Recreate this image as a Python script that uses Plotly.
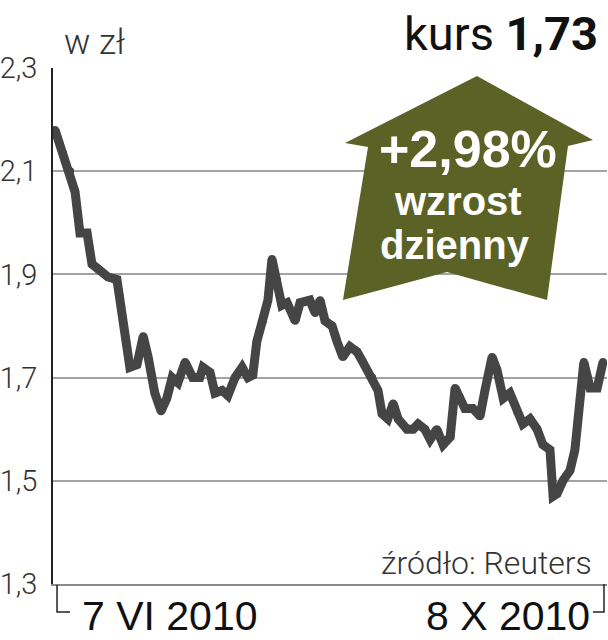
import plotly.graph_objects as go

# ---- data ----
days = [0, 1.8, 3.4, 4.5, 5.6, 7.2, 8.3, 9.7, 11.9, 13.9, 14.6, 16.8, 18.4, 19.8, 20.9,
        22.4, 23.8, 25.1, 26.3, 27.6, 29.2, 30.9, 32.5, 33.2, 34.8, 35.9, 37.5, 38.8,
        40.4, 42.0, 43.3, 44.4, 45.3, 46.7, 47.8, 48.7, 49.8, 50.9, 52.1, 53.9, 55.0,
        57.2, 58.4, 59.5, 60.6, 62.2, 63.3, 64.6, 66.2, 67.8, 69.1, 71.2, 72.5, 73.4,
        74.7, 75.9, 77.0, 79.0, 80.4, 81.5, 83.0, 84.2, 85.7, 87.1, 88.7, 89.8, 90.9,
        92.0, 93.8, 95.4, 96.5, 98.1, 99.2, 100.6, 102.1, 103.7, 105.0, 106.6, 108.2,
        109.5, 111.1, 111.8, 112.7, 114.0, 115.6, 116.7, 117.8, 118.7, 120.1, 121.7, 123.0]
kurs = [2.18, 2.135, 2.10, 2.06, 1.98, 1.98, 1.92, 1.91, 1.895, 1.89, 1.855, 1.72, 1.725,
        1.78, 1.74, 1.67, 1.635, 1.66, 1.70, 1.69, 1.73, 1.70, 1.70, 1.72, 1.71, 1.67,
        1.675, 1.665, 1.70, 1.72, 1.70, 1.705, 1.77, 1.81, 1.85, 1.93, 1.89, 1.84, 1.845,
        1.81, 1.845, 1.85, 1.825, 1.85, 1.81, 1.80, 1.77, 1.74, 1.76, 1.75, 1.73, 1.70,
        1.675, 1.63, 1.62, 1.65, 1.62, 1.60, 1.60, 1.61, 1.60, 1.58, 1.60, 1.57, 1.585,
        1.68, 1.66, 1.64, 1.64, 1.625, 1.675, 1.74, 1.715, 1.66, 1.67, 1.635, 1.61, 1.62,
        1.60, 1.57, 1.56, 1.47, 1.475, 1.50, 1.52, 1.56, 1.66, 1.73, 1.68, 1.68, 1.73]
y_ticks = [1.3, 1.5, 1.7, 1.9, 2.1, 2.3]
date_start = "7 VI 2010"
date_end = "8 X 2010"
unit_label = "w zł"
last_value = "1,73"
change_text = "+2,98%"
change_words = ["wzrost", "dzienny"]
source = "źródło: Reuters"

W, H = 608, 640
def px(x):
    return x / W
def py(y):
    return 1 - y / H

NARROW = "Roboto, Liberation Sans, sans-serif"
SANS = "Liberation Sans, Arial, sans-serif"
LINE = "#454545"
OLIVE = "#5a6226"

fig = go.Figure()
fig.add_trace(go.Scatter(
    x=days, y=kurs, mode="lines+markers",
    line=dict(color=LINE, width=9),
    marker=dict(color=LINE, size=8),
    hoverinfo="skip", showlegend=False, cliponaxis=False,
))

shapes = []
# up arrow
arrow_pts = [(477, 76), (593, 140), (568, 146), (547, 300), (447, 272),
             (343, 300), (368, 147), (345, 143)]
path = "M " + " L ".join(f"{px(a):.4f},{py(b):.4f}" for a, b in arrow_pts) + " Z"
shapes.append(dict(type="path", xref="paper", yref="paper", path=path,
                   fillcolor=OLIVE, line=dict(width=0), layer="above"))
# brackets under the axis
for pts in ([(57, 585), (57, 612), (70, 612)], [(604, 584), (604, 612), (593, 612)]):
    p = "M " + " L ".join(f"{px(a):.4f},{py(b):.4f}" for a, b in pts)
    shapes.append(dict(type="path", xref="paper", yref="paper", path=p,
                       line=dict(color="#222", width=1.5)))

ann = []
def add_text(text, x, y, size, color, xanchor, family=NARROW, weight=None):
    f = dict(size=size, color=color, family=family)
    if weight:
        f["weight"] = weight
    ann.append(dict(text=text, x=px(x), y=py(y), xref="paper", yref="paper",
                    xanchor=xanchor, yanchor="middle", showarrow=False, font=f))

add_text(unit_label, 62, 42, 35, "#333", "left", weight=300)
add_text("kurs <b>" + last_value + "</b>", 600, 34, 47, "#111", "right")
add_text("<b>" + change_text + "</b>", 468, 149, 52, "white", "center", family=SANS)
add_text("<b>" + change_words[0] + "</b>", 458, 201, 40, "white", "center", family=SANS)
add_text("<b>" + change_words[1] + "</b>", 455, 245, 40, "white", "center", family=SANS)
add_text(source, 594, 563, 32, "#333", "right", weight=300)
add_text(date_start, 80, 616, 41, "#111", "left", family=SANS)
add_text(date_end, 592, 616, 41, "#111", "right", family=SANS)

fig.update_layout(
    width=W, height=H, margin=dict(l=0, r=0, t=0, b=0, pad=0),
    paper_bgcolor="white", plot_bgcolor="white",
    separators=", ",
    shapes=shapes, annotations=ann,
    xaxis=dict(domain=[px(53), px(607)], range=[-0.45, 123.9], automargin=False,
               showgrid=False, zeroline=False, showticklabels=False,
               showline=True, linecolor="#8a8a8a", linewidth=1.5, ticks=""),
    yaxis=dict(domain=[py(584), py(68)], range=[1.3, 2.3], automargin=False,
               tickvals=y_ticks, tickformat=".1f",
               showgrid=True, gridcolor="#a3a3a3", gridwidth=1.5,
               zeroline=False, showline=True, linecolor="#222", linewidth=1.5,
               ticks="", ticklabelstandoff=8,
               tickfont=dict(family=NARROW, size=29, color="#333", weight=300)),
)

fig.write_html("out.html", config={"displayModeBar": False},
               post_script="document.body.style.margin='0';")
